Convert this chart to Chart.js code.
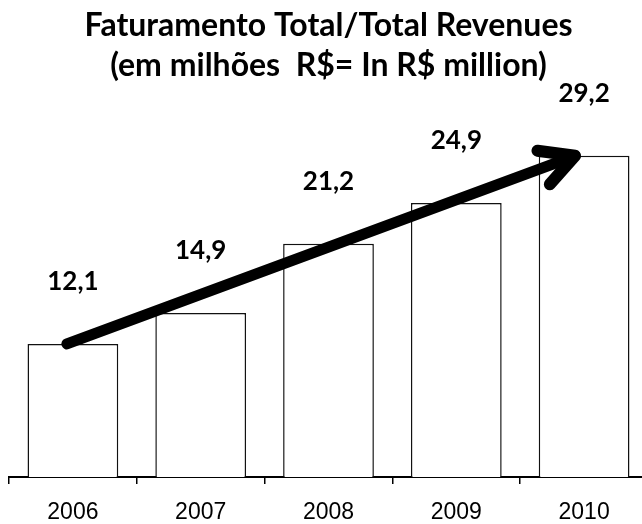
<!DOCTYPE html>
<html>
<head>
<meta charset="utf-8">
<script src="https://cdn.jsdelivr.net/npm/chart.js@4.4.0/dist/chart.umd.min.js"></script>
<style>
  html, body { margin: 0; padding: 0; background: #fff; overflow: hidden; }
  #wrap { width: 642px; height: 524px; overflow: hidden; position: relative; }
  #box { width: 660px; height: 524px; }
</style>
</head>
<body>
<div id="wrap"><div id="box"><canvas id="revenueChart"></canvas></div></div>
<script>
// Faturamento total 2006-2010 (R$ milhões)
const years = ['2006', '2007', '2008', '2009', '2010'];
const revenues = [12.1, 14.9, 21.2, 24.9, 29.2];
const titleLines = ['Faturamento Total/Total Revenues', '(em milhões  R$= In R$ million)'];

const fmt = v => v.toFixed(1).replace('.', ',');

// value labels above each bar
const valueLabels = {
  id: 'valueLabels',
  afterDatasetsDraw(chart) {
    const ctx = chart.ctx;
    const meta = chart.getDatasetMeta(0);
    ctx.save();
    ctx.font = 'bold 26px Lato';
    ctx.fillStyle = '#000';
    ctx.textAlign = 'center';
    ctx.textBaseline = 'alphabetic';
    meta.data.forEach((bar, i) => {
      ctx.fillText(fmt(revenues[i]), bar.x, bar.y - 54);
    });
    ctx.restore();
  }
};

// thick growth arrow from first to last bar
const growthArrow = {
  id: 'growthArrow',
  afterDatasetsDraw(chart) {
    const ctx = chart.ctx;
    const bars = chart.getDatasetMeta(0).data;
    const a = bars[0], b = bars[bars.length - 1];
    const x0 = a.x - 6, y0 = a.y;
    const x1 = b.x - 9, y1 = b.y;
    const ang = Math.atan2(y0 - y1, x0 - x1);
    const head = 38, spread = 28 * Math.PI / 180;
    ctx.save();
    ctx.strokeStyle = '#000';
    ctx.lineWidth = 11;
    ctx.lineCap = 'round';
    ctx.lineJoin = 'round';
    ctx.beginPath();
    ctx.moveTo(x0, y0);
    ctx.lineTo(x1, y1);
    ctx.stroke();
    ctx.lineWidth = 12;
    ctx.beginPath();
    ctx.moveTo(x1 + head * Math.cos(ang + spread), y1 + head * Math.sin(ang + spread));
    ctx.lineTo(x1, y1);
    ctx.lineTo(x1 + head * Math.cos(ang - spread), y1 + head * Math.sin(ang - spread));
    ctx.stroke();
    ctx.restore();
  }
};

new Chart(document.getElementById('revenueChart'), {
  type: 'bar',
  data: {
    labels: years,
    datasets: [{
      data: revenues,
      backgroundColor: '#fff',
      borderColor: '#111',
      borderWidth: 1.5,
      barPercentage: 0.71,
      categoryPercentage: 1
    }]
  },
  options: {
    responsive: true,
    maintainAspectRatio: false,
    animation: false,
    layout: {
      padding: { left: 9, right: 12, top: 0, bottom: 0 }
    },
    plugins: {
      legend: { display: false },
      tooltip: { enabled: false },
      title: {
        display: true,
        text: titleLines,
        color: '#000',
        font: { family: 'Lato', size: 32, weight: 'bold', lineHeight: 1.25 },
        padding: { top: 6, bottom: 6 }
      }
    },
    scales: {
      x: {
        afterFit(scale) {
          scale.height = 47;
        },
        grid: {
          drawOnChartArea: false,
          drawTicks: true,
          tickLength: 7,
          tickColor: '#000',
          lineWidth: 1.5
        },
        border: { display: true, color: '#000', width: 2 },
        ticks: {
          color: '#000',
          padding: 15,
          font: { family: 'Liberation Sans', size: 23, lineHeight: 1.2 }
        }
      },
      y: {
        display: false,
        min: 0,
        max: 35
      }
    }
  },
  plugins: [valueLabels, growthArrow]
});
</script>
</body>
</html>
